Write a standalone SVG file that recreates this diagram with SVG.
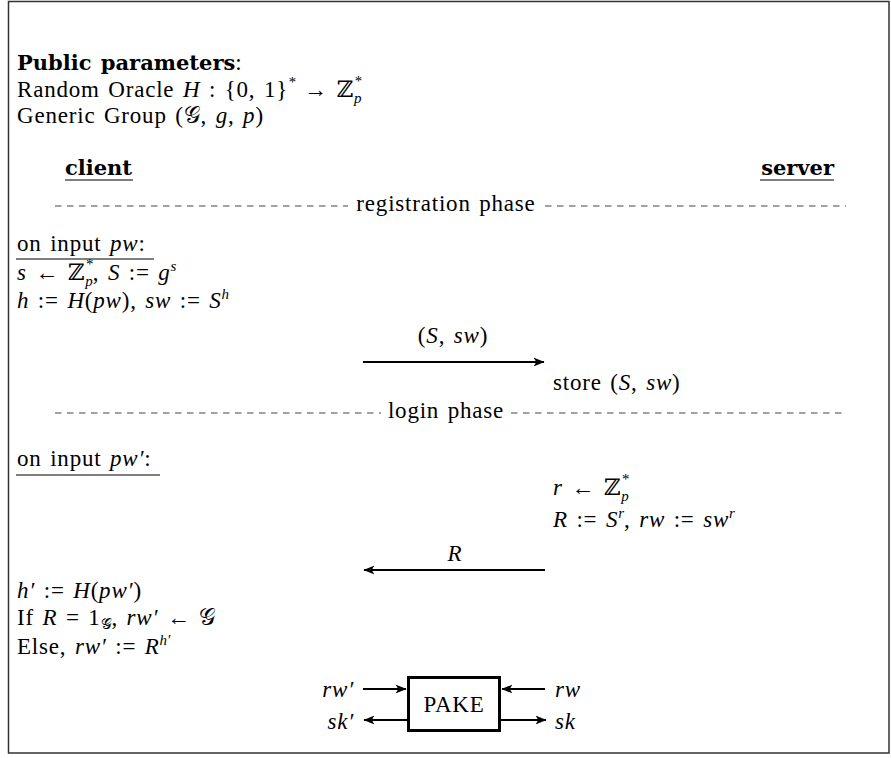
<svg xmlns="http://www.w3.org/2000/svg" width="891" height="758" viewBox="0 0 891 758">
<defs>
<marker id="ah" viewBox="0 0 10 10" refX="9.5" refY="5" markerWidth="11" markerHeight="11" markerUnits="userSpaceOnUse" orient="auto">
<path d="M0,1 L10,5 L0,9 L2.5,5 Z" fill="#000"/>
</marker>
<style>
text{font-family:"Liberation Serif","DejaVu Serif",serif;font-size:23px;letter-spacing:0.8px;word-spacing:2px;fill:#000}
.i{font-style:italic}
.b{font-family:"DejaVu Serif",serif;font-weight:bold;font-size:21px;letter-spacing:0}
.s{font-size:15px;letter-spacing:0}
.cal{font-family:"DejaVu Serif","Noto Sans",serif}
.dash{stroke:#444;stroke-width:1.2;stroke-dasharray:6.5 5.5;fill:none}
.ul{stroke:#000;stroke-width:1.1}
.arr{stroke:#000;stroke-width:2;fill:none;marker-end:url(#ah)}
</style>
</defs>
<rect x="8.5" y="1.5" width="880.5" height="751.5" fill="#fff" stroke="#333" stroke-width="1.5"/>

<g id="params">
<text x="17" y="70"><tspan class="b">Public parameters</tspan>:</text>
<text x="17" y="97">Random Oracle <tspan class="i">H</tspan> : {0, 1}<tspan class="s i" dy="-10">*</tspan><tspan dy="10"> → ℤ</tspan><tspan class="s i" dy="-11">*</tspan><tspan class="s i" dx="-7.5" dy="17">p</tspan></text>
<text x="17" y="123">Generic Group (<tspan class="cal">𝒢</tspan>, <tspan class="i">g</tspan>, <tspan class="i">p</tspan>)</text>
</g>

<g id="client">
<text x="65" y="175" class="b">client</text>
<line class="ul" x1="65" y1="180" x2="133" y2="180"/>
</g>
<g id="server">
<text x="834" y="175" class="b" text-anchor="end">server</text>
<line class="ul" x1="760" y1="180" x2="834" y2="180"/>
</g>

<g id="registration-phase">
<line class="dash" x1="55" y1="206" x2="348" y2="206"/>
<text x="446" y="211" text-anchor="middle">registration phase</text>
<line class="dash" x1="545" y1="206" x2="846" y2="206"/>
</g>

<g id="client-reg">
<text x="17" y="251">on input <tspan class="i">pw</tspan>:</text>
<line class="ul" x1="16" y1="259" x2="154" y2="259"/>
<text x="17" y="280"><tspan class="i">s</tspan> ← ℤ<tspan class="s i" dy="-11">*</tspan><tspan class="s i" dx="-7.5" dy="17">p</tspan><tspan dy="-6">, </tspan><tspan class="i">S</tspan> := <tspan class="i">g</tspan><tspan class="s i" dy="-9">s</tspan></text>
<text x="17" y="308"><tspan class="i">h</tspan> := <tspan class="i">H</tspan>(<tspan class="i">pw</tspan>), <tspan class="i">sw</tspan> := <tspan class="i">S</tspan><tspan class="s i" dy="-9">h</tspan></text>
</g>

<g id="server-reg">
<text x="553" y="390">store (<tspan class="i">S</tspan>, <tspan class="i">sw</tspan>)</text>
</g>

<g id="login-phase">
<line class="dash" x1="55" y1="413" x2="381" y2="413"/>
<text x="446" y="418" text-anchor="middle">login phase</text>
<line class="dash" x1="511" y1="413" x2="846" y2="413"/>
</g>

<g id="client-login">
<text x="17" y="466">on input <tspan class="i">pw′</tspan>:</text>
<line class="ul" x1="16" y1="475" x2="160" y2="475"/>
<text x="17" y="598"><tspan class="i">h′</tspan> := <tspan class="i">H</tspan>(<tspan class="i">pw′</tspan>)</text>
<text x="17" y="625">If <tspan class="i">R</tspan> = 1<tspan class="s cal" dy="4">𝒢</tspan><tspan dy="-4">, </tspan><tspan class="i">rw′</tspan> ← <tspan class="cal">𝒢</tspan></text>
<text x="17" y="654">Else, <tspan class="i">rw′</tspan> := <tspan class="i">R</tspan><tspan class="s i" dy="-9">h′</tspan></text>
</g>

<g id="server-login">
<text x="553" y="495"><tspan class="i">r</tspan> ← ℤ<tspan class="s i" dy="-11">*</tspan><tspan class="s i" dx="-7.5" dy="17">p</tspan></text>
<text x="553" y="527"><tspan class="i">R</tspan> := <tspan class="i">S</tspan><tspan class="s i" dy="-9">r</tspan><tspan dy="9">, </tspan><tspan class="i">rw</tspan> := <tspan class="i">sw</tspan><tspan class="s i" dy="-9">r</tspan></text>
</g>

<g id="pake">
<rect x="408.5" y="677.5" width="91" height="53" fill="#fff" stroke="#000" stroke-width="3"/>
<text x="454" y="712" text-anchor="middle">PAKE</text>
</g>

<g id="connectors">
<line class="arr" x1="363" y1="362" x2="544" y2="362"/>
<text x="453" y="343" text-anchor="middle">(<tspan class="i">S</tspan>, <tspan class="i">sw</tspan>)</text>
<line class="arr" x1="545" y1="570" x2="364" y2="570"/>
<text x="455" y="561" text-anchor="middle" class="i">R</text>
<line class="arr" x1="363" y1="689" x2="406" y2="689"/>
<line class="arr" x1="407" y1="720" x2="364" y2="720"/>
<line class="arr" x1="545" y1="689" x2="502" y2="689"/>
<line class="arr" x1="501" y1="720" x2="546" y2="720"/>
<text x="354" y="697" text-anchor="end" class="i">rw′</text>
<text x="354" y="729" text-anchor="end" class="i">sk′</text>
<text x="555" y="697" class="i">rw</text>
<text x="555" y="729" class="i">sk</text>
</g>
</svg>
